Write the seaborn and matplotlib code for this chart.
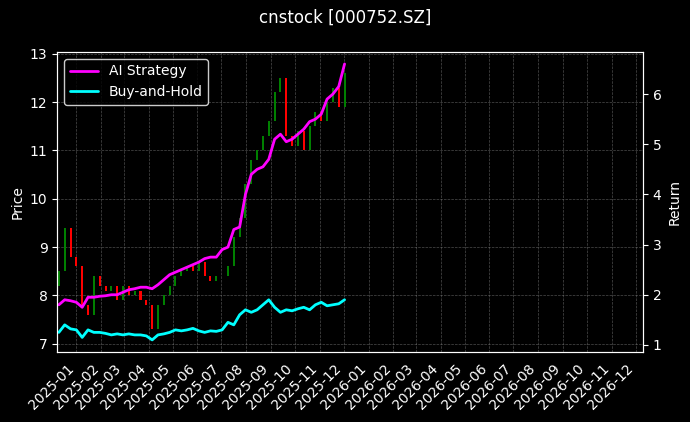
import numpy as np
import pandas as pd
import matplotlib
matplotlib.use("Agg")
import matplotlib.pyplot as plt
import matplotlib.dates as mdates
import seaborn as sns

# weekly closes
closes = [8.5, 9.4, 8.8, 8.6, 7.8, 7.6, 8.4, 8.2,
          8.1, 8.2, 7.9, 8.2, 8.0, 8.1, 7.9, 7.8,
          7.3, 7.8, 8.0, 8.2, 8.4, 8.5, 8.6, 8.5,
          8.7, 8.4, 8.3, 8.4, 8.4, 8.6, 9.2, 9.6,
          10.3, 10.8, 11.0, 11.3, 11.6, 12.2, 12.5, 11.3,
          11.1, 11.4, 11.0, 11.5, 11.8, 11.6, 12.0, 12.3,
          11.9, 12.6]
opens = [8.2] + closes[:-1]
ai_strategy = [1.8, 1.9, 1.88, 1.85, 1.75, 1.95, 1.95, 1.97, 1.98, 2.0,
               2.0, 2.05, 2.1, 2.12, 2.15, 2.15, 2.12, 2.2, 2.3, 2.4,
               2.45, 2.5, 2.55, 2.6, 2.65, 2.72, 2.75, 2.75, 2.9, 2.95,
               3.3, 3.35, 4.0, 4.4, 4.5, 4.55, 4.7, 5.1, 5.2, 5.05,
               5.1, 5.2, 5.3, 5.45, 5.5, 5.6, 5.9, 6.0, 6.15, 6.6]
buy_hold = [1.25, 1.4, 1.32, 1.3, 1.15, 1.3, 1.25, 1.25, 1.23, 1.2,
            1.22, 1.2, 1.22, 1.2, 1.2, 1.18, 1.1, 1.2, 1.22, 1.25,
            1.3, 1.28, 1.3, 1.33, 1.28, 1.25, 1.28, 1.27, 1.3, 1.45,
            1.4, 1.6, 1.7, 1.65, 1.7, 1.8, 1.9, 1.75, 1.65, 1.7,
            1.68, 1.72, 1.75, 1.7, 1.8, 1.85, 1.78, 1.8, 1.82, 1.9]
dates = pd.date_range("2024-12-10", "2025-12-02", periods=len(closes))

df = pd.DataFrame({"date": dates, "open": opens, "close": closes,
                   "ai": ai_strategy, "bh": buy_hold})

plt.style.use("dark_background")
sns.set_style("dark", {"axes.facecolor": "black", "figure.facecolor": "black"})
plt.rcParams.update({"text.color": "white", "axes.labelcolor": "white",
                     "xtick.color": "white", "ytick.color": "white",
                     "axes.edgecolor": "white"})

fig, ax = plt.subplots(figsize=(6.9, 4.22), dpi=100)
fig.patch.set_facecolor("black")
ax.set_facecolor("black")

colors = np.where(df["close"] >= df["open"], "green", "red")
bottoms = np.minimum(df["open"], df["close"])
heights = np.abs(df["close"] - df["open"])
ax.bar(df["date"], heights, bottom=bottoms, width=2.5, color=colors, edgecolor="none", linewidth=0)
ax.set_ylim(6.83, 13.04)
ax.set_ylabel("Price")
ax.grid(True, color="gray", linestyle="--", linewidth=0.5, alpha=0.6)

ax2 = ax.twinx()
sns.lineplot(data=df, x="date", y="ai", ax=ax2, color="magenta", linewidth=2,
             label="AI Strategy")
sns.lineplot(data=df, x="date", y="bh", ax=ax2, color="cyan", linewidth=2,
             label="Buy-and-Hold")
ax2.set_ylim(0.86, 6.84)
ax2.set_ylabel("Return")
ax2.set_xlabel("")
ax2.legend(loc="upper left", facecolor="black", edgecolor="white")

ax.set_xlim(pd.Timestamp("2024-12-08"), pd.Timestamp("2026-12-10"))
ax.xaxis.set_major_locator(mdates.MonthLocator())
ax.xaxis.set_major_formatter(mdates.DateFormatter("%Y-%m"))
plt.setp(ax.get_xticklabels(), rotation=45, ha="right")
ax.set_xlabel("")

fig.suptitle("cnstock [000752.SZ]")
fig.subplots_adjust(left=0.083, right=0.932, top=0.877, bottom=0.166)
fig.savefig("out.png", facecolor="black")
